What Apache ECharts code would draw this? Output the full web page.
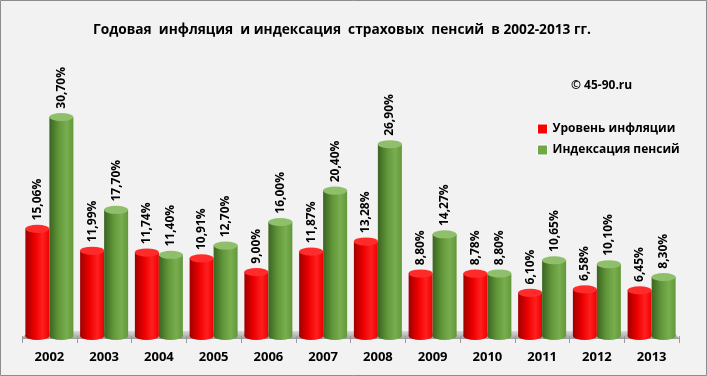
<!DOCTYPE html>
<html>
<head>
<meta charset="utf-8">
<script src="https://cdn.jsdelivr.net/npm/echarts@6/dist/echarts.min.js"></script>
<style>
  html, body { margin: 0; padding: 0; background: #f2f2f2; }
  #chart { width: 707px; height: 376px; }
</style>
</head>
<body>
<div id="chart"></div>
<script>
var years = ['2002', '2003', '2004', '2005', '2006', '2007', '2008', '2009', '2010', '2011', '2012', '2013']
var inflation = [15.06, 11.99, 11.74, 10.91, 9.00, 11.87, 13.28, 8.80, 8.78, 6.10, 6.58, 6.45]
var indexation = [30.70, 17.70, 11.40, 12.70, 16.00, 20.40, 26.90, 14.27, 8.80, 10.65, 10.10, 8.30]
var seriesNames = ['Уровень инфляции', 'Индексация пенсий']

var font = '"Open Sans", "Noto Sans", sans-serif'
var BW = 24

function cyl(dark, mid, light) {
  // horizontal gradient for the cylinder body
  return new echarts.graphic.LinearGradient(0, 0, 1, 0, [
    { offset: 0, color: dark },
    { offset: 0.4, color: mid },
    { offset: 0.72, color: light },
    { offset: 1, color: mid }
  ])
}

var redBody = cyl('#a00000', '#ee0000', '#ff1f1f')
var greenBody = cyl('#3b6421', '#62983a', '#78ae50')

function fmt(p) {
  return p.value.toFixed(2).replace('.', ',') + '%'
}

// ellipse caps, all pictorial series share the category centre and are shifted by px
function cap(name, data, side, pos, color, border) {
  return {
    name: name,
    type: 'pictorialBar',
    data: data,
    symbol: 'circle',
    symbolSize: [BW, 8],
    symbolPosition: pos,
    symbolOffset: [side * BW / 2, pos === 'end' ? '-50%' : '50%'],
    barWidth: BW,
    barGap: '-100%',
    z: pos === 'end' ? 4 : 1,
    silent: true,
    itemStyle: border
      ? { color: color, borderColor: '#ffffff', borderWidth: 1 }
      : { color: color }
  }
}

var valueLabel = {
  show: true,
  position: 'top',
  rotate: 90,
  align: 'left',
  verticalAlign: 'middle',
  distance: 8,
  formatter: fmt,
  fontFamily: font,
  fontSize: 12,
  fontWeight: 'bold',
  color: '#000'
}

var chart = echarts.init(document.getElementById('chart'))

chart.setOption({
  backgroundColor: '#f2f2f2',
  animation: false,
  title: [
    {
      text: 'Годовая  инфляция  и индексация  страховых  пенсий  в 2002-2013 гг.',
      left: 88,
      top: 18,
      textStyle: { fontFamily: font, fontSize: 13.7, fontWeight: 'bold', color: '#000' }
    },
    {
      text: '© 45-90.ru',
      left: 566,
      top: 75,
      textStyle: { fontFamily: font, fontSize: 12, fontWeight: 'bold', color: '#000' }
    }
  ],
  legend: {
    orient: 'vertical',
    left: 537,
    top: 123,
    padding: 0,
    itemWidth: 10,
    itemHeight: 10,
    itemGap: 9,
    icon: 'rect',
    textStyle: { fontFamily: font, fontSize: 12, fontWeight: 'bold', color: '#000' },
    data: [
      { name: seriesNames[0], itemStyle: { color: '#ff0000', borderColor: '#fff', borderWidth: 1 } },
      { name: seriesNames[1], itemStyle: { color: '#70a845', borderColor: '#fff', borderWidth: 1 } }
    ]
  },
  grid: { left: 22, right: 28, top: 86, bottom: 40 },
  xAxis: {
    type: 'category',
    data: years,
    axisLine: { show: false },
    axisTick: { show: true, length: 7, lineStyle: { color: '#9a9a9a' } },
    axisLabel: {
      margin: 15,
      fontFamily: font,
      fontSize: 13,
      fontWeight: 'bold',
      color: '#000'
    }
  },
  yAxis: {
    type: 'value',
    min: 0,
    max: 35,
    show: false,
    splitLine: { show: false }
  },
  graphic: [
    {
      type: 'rect',
      shape: { x: 0.5, y: 0.5, width: 706, height: 375 },
      style: { fill: 'none', stroke: '#8c8c8c', lineWidth: 1 },
      z: 100
    },
    {
      // floor shelf
      type: 'polygon',
      shape: { points: [[22, 338], [679, 338], [672, 331], [29, 331]] },
      style: {
        fill: new echarts.graphic.LinearGradient(0, 0, 0, 1, [
          { offset: 0, color: '#d9d9d9' },
          { offset: 1, color: '#a6a6a6' }
        ])
      },
      z: 0
    },
    {
      type: 'polyline',
      shape: { points: [[22, 338.5], [679, 338.5]] },
      style: { stroke: '#a0a0a0', lineWidth: 1 },
      z: 0
    }
  ],
  series: [
    {
      name: seriesNames[0],
      type: 'bar',
      data: inflation,
      barWidth: BW,
      barGap: '0%',
      z: 2,
      itemStyle: { color: redBody },
      label: valueLabel
    },
    {
      name: seriesNames[1],
      type: 'bar',
      data: indexation,
      barWidth: BW,
      barGap: '0%',
      z: 2,
      itemStyle: { color: greenBody },
      label: valueLabel
    },
    cap('top1', inflation, -1, 'end', '#ff2b2b', true),
    cap('top2', indexation, 1, 'end', '#8fbf6a', true),
    cap('bottom1', inflation, -1, 'start', redBody, false),
    cap('bottom2', indexation, 1, 'start', greenBody, false)
  ]
})
</script>
</body>
</html>
